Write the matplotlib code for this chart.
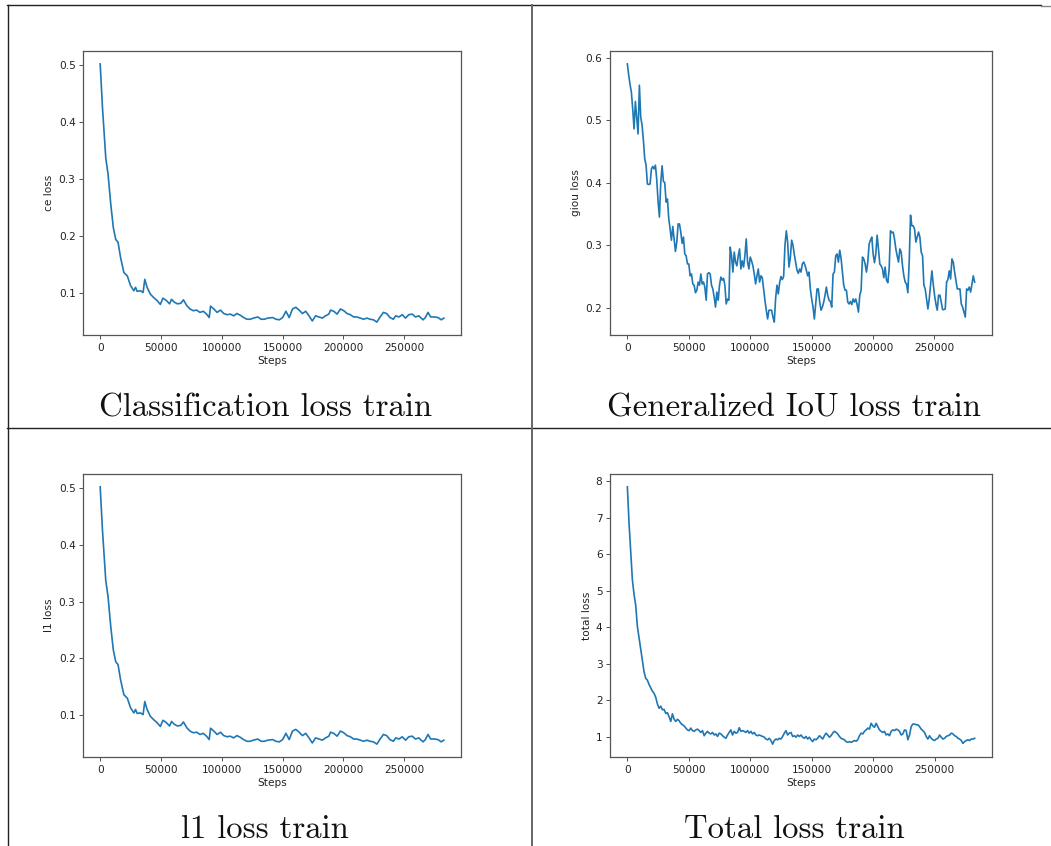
import numpy as np
import matplotlib
matplotlib.use("Agg")
import matplotlib.pyplot as plt
from matplotlib.lines import Line2D

# ---- data ----
ce_steps = [0, 1900, 4600, 6500, 8700, 10800, 12800, 14700, 16800, 19500,
            22300, 25000, 27700, 29100, 30400, 33100, 35300, 36700, 38600, 41300,
            44000, 46700, 49500, 51600, 54400, 57100, 58700, 60900, 63600, 66300,
            68500, 71200, 73900, 76600, 79400, 82100, 84800, 87500, 89700, 90800,
            93500, 96200, 98950, 101700, 104400, 107100, 109800, 112500, 115300, 118000,
            120700, 123400, 126100, 129700, 132400, 135100, 137800, 141900, 144600, 147400,
            150100, 152800, 155500, 158200, 160900, 163700, 166400, 169100, 171800, 174500,
            177200, 180000, 182700, 185400, 188100, 189500, 192200, 194900, 197700, 200400,
            203100, 205800, 208500, 211200, 214000, 216700, 219400, 222100, 224800, 227600,
            230300, 233000, 235700, 238400, 241200, 243100, 245800, 248500, 251200, 253900,
            256700, 259400, 262100, 265600, 267500, 269700, 271900, 275100, 277900, 280600,
            282700]
ce_loss = [0.502, 0.425, 0.337, 0.308, 0.256, 0.215, 0.194, 0.189, 0.162, 0.136,
           0.130, 0.113, 0.104, 0.110, 0.103, 0.104, 0.101, 0.124, 0.110, 0.098,
           0.092, 0.087, 0.080, 0.091, 0.087, 0.081, 0.089, 0.084, 0.081, 0.082,
           0.088, 0.078, 0.072, 0.069, 0.070, 0.066, 0.068, 0.063, 0.057, 0.077,
           0.072, 0.066, 0.070, 0.064, 0.062, 0.063, 0.060, 0.064, 0.061, 0.057,
           0.054, 0.054, 0.056, 0.058, 0.054, 0.054, 0.056, 0.057, 0.054, 0.053,
           0.057, 0.068, 0.057, 0.072, 0.075, 0.070, 0.064, 0.068, 0.060, 0.051,
           0.060, 0.058, 0.056, 0.060, 0.063, 0.070, 0.068, 0.063, 0.072, 0.069,
           0.064, 0.062, 0.058, 0.058, 0.056, 0.054, 0.056, 0.054, 0.053, 0.049,
           0.058, 0.066, 0.064, 0.057, 0.054, 0.060, 0.058, 0.062, 0.056, 0.062,
           0.063, 0.058, 0.060, 0.053, 0.057, 0.066, 0.058, 0.058, 0.057, 0.053,
           0.056]

# the l1 curve is the same as the ce curve in the reference
l1_steps = list(ce_steps)
l1_loss = list(ce_loss)

giou_last_step = 282800
giou_loss = [0.590, 0.572, 0.557, 0.545, 0.518, 0.486, 0.530, 0.505, 0.478, 0.556,
             0.505, 0.492, 0.468, 0.438, 0.428, 0.398, 0.397, 0.398, 0.422, 0.426,
             0.422, 0.428, 0.405,
             0.370, 0.345, 0.400, 0.427, 0.402, 0.400, 0.369, 0.374, 0.342, 0.326,
             0.308, 0.330, 0.310, 0.290, 0.305, 0.334, 0.334, 0.321, 0.303, 0.313,
             0.286, 0.283, 0.270, 0.270, 0.251, 0.254, 0.238, 0.236, 0.224, 0.228,
             0.241, 0.236, 0.254, 0.238, 0.241, 0.233, 0.212, 0.254, 0.256, 0.254,
             0.236, 0.230, 0.217, 0.201, 0.225, 0.212, 0.236, 0.249, 0.244, 0.247,
             0.236, 0.206, 0.214, 0.212, 0.297, 0.283, 0.257, 0.289, 0.273, 0.267,
             0.283, 0.294, 0.262, 0.275, 0.265, 0.283, 0.310, 0.273, 0.262, 0.281,
             0.275, 0.267, 0.254, 0.238, 0.251, 0.262, 0.241, 0.251, 0.248, 0.230,
             0.212, 0.196, 0.182, 0.196, 0.196, 0.196, 0.185, 0.177, 0.215, 0.236,
             0.222, 0.240, 0.250, 0.245, 0.250, 0.300, 0.323, 0.305, 0.265, 0.280,
             0.308, 0.300, 0.285, 0.272, 0.260, 0.255, 0.262,
             0.257, 0.270, 0.273, 0.268, 0.260, 0.251,
             0.257, 0.230, 0.214, 0.201, 0.182, 0.206, 0.230, 0.230, 0.209, 0.196,
             0.201, 0.209, 0.220, 0.233, 0.220, 0.212, 0.210, 0.201, 0.254, 0.257,
             0.283, 0.286, 0.273, 0.292, 0.279, 0.257, 0.236, 0.228, 0.228, 0.209,
             0.206, 0.210, 0.205, 0.214, 0.209, 0.214, 0.205, 0.193, 0.220, 0.228,
             0.281, 0.278, 0.270, 0.257, 0.273, 0.302, 0.308, 0.313, 0.286, 0.272,
             0.286, 0.316, 0.294, 0.270, 0.267, 0.262, 0.248, 0.265, 0.244, 0.240,
             0.262, 0.323, 0.320, 0.321, 0.310, 0.294, 0.283, 0.273, 0.294, 0.289,
             0.267, 0.251, 0.241, 0.238, 0.224, 0.273, 0.348, 0.331, 0.331, 0.326,
             0.305, 0.313, 0.321, 0.313, 0.289, 0.283, 0.236, 0.230, 0.214, 0.198,
             0.214, 0.236, 0.259, 0.238, 0.220, 0.206, 0.196, 0.220, 0.220, 0.209,
             0.197, 0.197, 0.198, 0.241, 0.245, 0.259, 0.246, 0.278, 0.273, 0.257,
             0.244, 0.230, 0.230, 0.230, 0.206, 0.201, 0.193, 0.185, 0.230, 0.228,
             0.233, 0.225, 0.238, 0.251, 0.241]

total_last_step = 282500
total_loss = [7.84, 6.85, 6.10, 5.30, 4.90, 4.60, 4.02, 3.72, 3.40, 3.08, 2.78, 2.60,
              2.55, 2.43, 2.34, 2.25, 2.19, 2.08, 1.90,
              1.78, 1.84, 1.74, 1.75, 1.64, 1.66, 1.55, 1.42, 1.63, 1.48,
              1.42, 1.48, 1.44, 1.37, 1.33, 1.30, 1.24, 1.19, 1.17, 1.24,
              1.17, 1.15, 1.19, 1.21, 1.17, 1.12, 1.17, 1.03, 1.10, 1.15,
              1.10, 1.08, 1.12, 1.05, 1.08, 1.01, 1.10, 1.08, 1.03, 0.99,
              0.96, 1.05, 1.12, 1.19, 1.05, 1.15, 1.10, 1.12, 1.25, 1.15,
              1.17, 1.15, 1.12, 1.17, 1.10, 1.15, 1.08, 1.12, 1.05, 1.03,
              1.05, 1.03, 1.01, 0.99, 0.94, 0.92, 0.96, 0.90, 0.80, 0.90,
              0.94, 0.92, 0.96, 0.94, 1.01, 1.10, 1.17, 1.05, 1.10, 1.12,
              1.01, 1.03, 0.99, 1.05, 1.01, 1.05, 0.99, 0.96, 1.01, 0.94,
              0.99, 0.92, 0.87, 0.94, 0.92, 0.96, 1.03, 0.99, 0.94, 1.03,
              1.10, 1.05, 0.99, 1.03, 1.10, 1.15, 1.12, 1.08, 1.01, 0.96,
              0.94, 0.92, 0.87, 0.85, 0.87, 0.85, 0.87, 0.90, 0.88, 0.92,
              1.03, 1.10, 1.08, 1.15, 1.19, 1.24, 1.21, 1.37, 1.30, 1.26,
              1.37, 1.28, 1.19, 1.15, 1.12, 1.15, 1.05, 1.08, 1.03, 1.15,
              1.19, 1.17, 1.21, 1.19, 1.15, 1.05, 1.08, 1.19, 1.17, 0.92,
              1.05, 1.28, 1.35, 1.35, 1.33, 1.33, 1.28, 1.21, 1.17, 1.12,
              1.01, 0.94, 1.03, 0.96, 0.92, 0.90, 0.94, 0.96, 1.05, 0.99,
              0.94, 0.96, 1.01, 1.03, 1.05, 1.10, 1.08, 1.03, 1.01, 0.96,
              0.94, 0.90, 0.82, 0.87, 0.90, 0.92, 0.90, 0.94, 0.94, 0.96]

giou_steps = np.linspace(0, giou_last_step, len(giou_loss))
total_steps = np.linspace(0, total_last_step, len(total_loss))

y_labels = ["ce loss", "giou loss", "l1 loss", "total loss"]
captions = ["Classification loss train", "Generalized IoU loss train",
            "l1 loss train", "Total loss train"]

# ---- figure ----
W, H = 1051, 846
fig = plt.figure(figsize=(W / 100, H / 100), dpi=100)

def px_rect(l, t, r, b):
    return [l / W, 1 - b / H, (r - l) / W, (b - t) / H]

rects = [px_rect(83, 51, 461, 335), px_rect(610, 51, 992, 335),
         px_rect(83, 474, 461, 757), px_rect(610, 474, 992, 757)]
series = [(ce_steps, ce_loss), (giou_steps, giou_loss),
          (l1_steps, l1_loss), (total_steps, total_loss)]

fs = 7.6
for rect, (xs, ys), ylab in zip(rects, series, y_labels):
    ax = fig.add_axes(rect)
    ax.plot(xs, ys, color="#1f77b4", lw=1.2)
    ax.set_xlabel("Steps", fontsize=fs, labelpad=2.5, color="#222222")
    ax.set_ylabel(ylab, fontsize=fs, labelpad=3, color="#222222")
    ax.tick_params(labelsize=fs, length=2.7, width=0.6, pad=2.7,
                   colors="#333333", labelcolor="#222222")
    for sp in ax.spines.values():
        sp.set_color("#555555")
        sp.set_linewidth(0.9)

caption_pos = [(266, 416), (794, 416), (265, 838), (794, 838)]
for (cx, cy), txt in zip(caption_pos, captions):
    fig.text(cx / W, 1 - cy / H, txt, ha="center", va="baseline",
             fontsize=23.6, family="cmr10", color="#111111")

# table rules
def hline(y, x0, x1, color="#222222", lw=1.0):
    fig.add_artist(Line2D([x0 / W, x1 / W], [1 - y / H, 1 - y / H],
                          transform=fig.transFigure, color=color, lw=lw))

def vline(x, y0, y1, color="#222222", lw=1.0):
    fig.add_artist(Line2D([x / W, x / W], [1 - y0 / H, 1 - y1 / H],
                          transform=fig.transFigure, color=color, lw=lw))

hline(5.5, 7, 1041)
hline(6, 1041, 1051, color="#888888")
hline(428.3, 7, 1051)
vline(7.5, 5, 846)
vline(531.5, 5, 846, color="#666666", lw=1.4)

fig.savefig("out.png", dpi=100)
